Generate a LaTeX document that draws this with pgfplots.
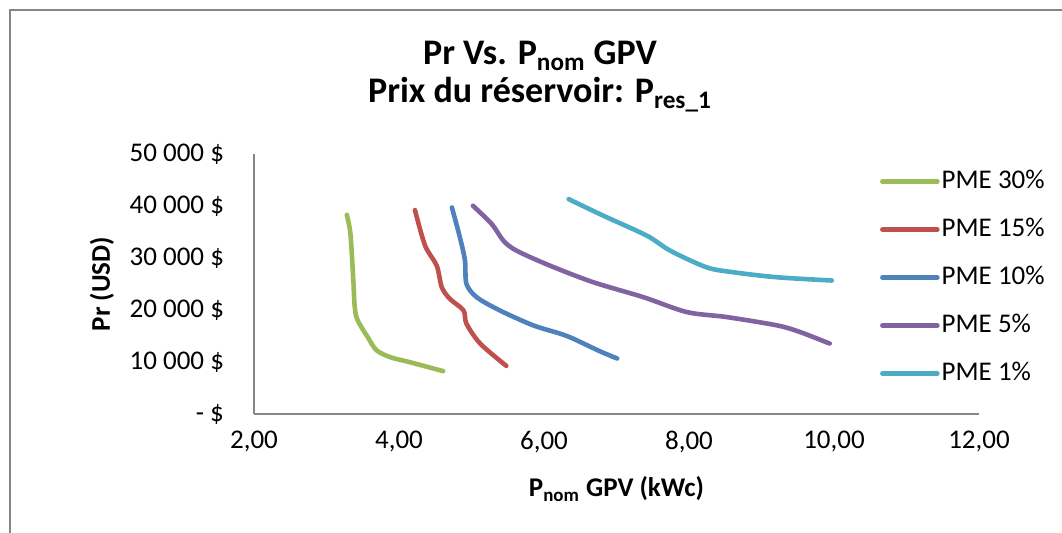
\documentclass[border=0pt]{standalone}
\usepackage{pgfplots}
\pgfplotsset{compat=1.18}
\usepackage{fontspec}
\setmainfont{Carlito}
\definecolor{cgreen}{HTML}{9BBB59}
\definecolor{cred}{HTML}{C0504D}
\definecolor{cblue}{HTML}{4F81BD}
\definecolor{cpurple}{HTML}{8064A2}
\definecolor{caqua}{HTML}{4BACC6}
\definecolor{axgray}{HTML}{868686}
\begin{document}
\begin{tikzpicture}[x=0.5pt,y=0.5pt]
\path[use as bounding box] (0,0) rectangle (1062,533);
\draw[line width=1pt, color=axgray] (10,0) -- (10,523) -- (1062,523);
\node[anchor=base, font=\bfseries\fontsize{18}{20}\selectfont, inner sep=0] at (540,468) {Pr Vs. P\textsubscript{nom} GPV};
\node[anchor=base, font=\bfseries\fontsize{18}{20}\selectfont, inner sep=0] at (540,430) {Prix du réservoir: P\textsubscript{res\_1}};
\begin{axis}[
  at={(127pt,59.5pt)}, anchor=south west,
  scale only axis, width=362.5pt, height=130pt,
  xmin=2, xmax=12, ymin=0, ymax=50000,
  scaled y ticks=false, scaled x ticks=false,
  axis x line=bottom, axis y line=left,
  axis line style={draw=axgray, line width=1pt, -},
  major tick length=0pt,
  xtick={2,4,6,8,10,12},
  xticklabels={{2,00},{4,00},{6,00},{8,00},{10,00},{12,00}},
  ytick={0,10000,20000,30000,40000,50000},
  yticklabels={{- \$},{10 000 \$},{20 000 \$},{30 000 \$},{40 000 \$},{50 000 \$}},
  ticklabel style={font=\fontsize{13.5}{16}\selectfont},
  xticklabel style={anchor=north, yshift=-5pt},
  yticklabel style={anchor=east, xshift=-11.5pt},
  xlabel={P\textsubscript{nom} GPV (kWc)},
  ylabel={Pr (USD)},
  label style={font=\bfseries\fontsize{13.5}{16}\selectfont},
  xlabel style={at={(axis description cs:0.5,0)}, anchor=base, yshift=-41.5pt},
  ylabel style={at={(axis description cs:0,0.5)}, anchor=center, yshift=76pt},
  legend style={at={(axis description cs:0.863,0.946)}, anchor=north west, draw=none, fill=none, inner sep=0pt,
    font=\fontsize{13.5}{16}\selectfont, row sep=11pt,
    nodes={inner ysep=0pt, inner xsep=1pt, text height=10pt, text depth=3pt}},
  legend cell align=left,
  legend image code/.code={\draw[#1] (0pt,0pt) -- (27.5pt,0pt);},
  every axis plot/.append style={line width=2.3pt, line cap=round, line join=round, smooth, tension=0.5},
]
\addplot[cgreen] coordinates {(3.28,38310) (3.33,34640) (3.37,25670) (3.39,20500) (3.43,18000) (3.57,14750) (3.69,12260) (3.88,10920) (4.15,9960) (4.61,8240)};
\addlegendentry{PME 30\%}
\addplot[cred] coordinates {(4.22,39210) (4.36,32380) (4.52,28540) (4.59,24390) (4.70,22160) (4.89,19920) (4.93,17380) (5.12,13540) (5.48,9250)};
\addlegendentry{PME 15\%}
\addplot[cblue] coordinates {(4.73,39710) (4.84,33970) (4.91,29500) (4.93,25040) (5.07,22470) (5.39,19920) (5.85,17050) (6.22,15460) (6.40,14500) (6.77,12070) (7.01,10670)};
\addlegendentry{PME 10\%}
\addplot[cpurple] coordinates {(5.02,40040) (5.28,36530) (5.44,33330) (5.62,31420) (6.08,28540) (6.68,25340) (7.37,22470) (7.97,19600) (8.52,18640) (9.21,17050) (9.53,15770) (9.94,13540)};
\addlegendentry{PME 5\%}
\addplot[caqua] coordinates {(6.34,41320) (6.82,38120) (7.42,34290) (7.74,31420) (8.24,28220) (8.61,27260) (9.21,26300) (9.97,25670)};
\addlegendentry{PME 1\%}
\end{axis}
\end{tikzpicture}
\end{document}
